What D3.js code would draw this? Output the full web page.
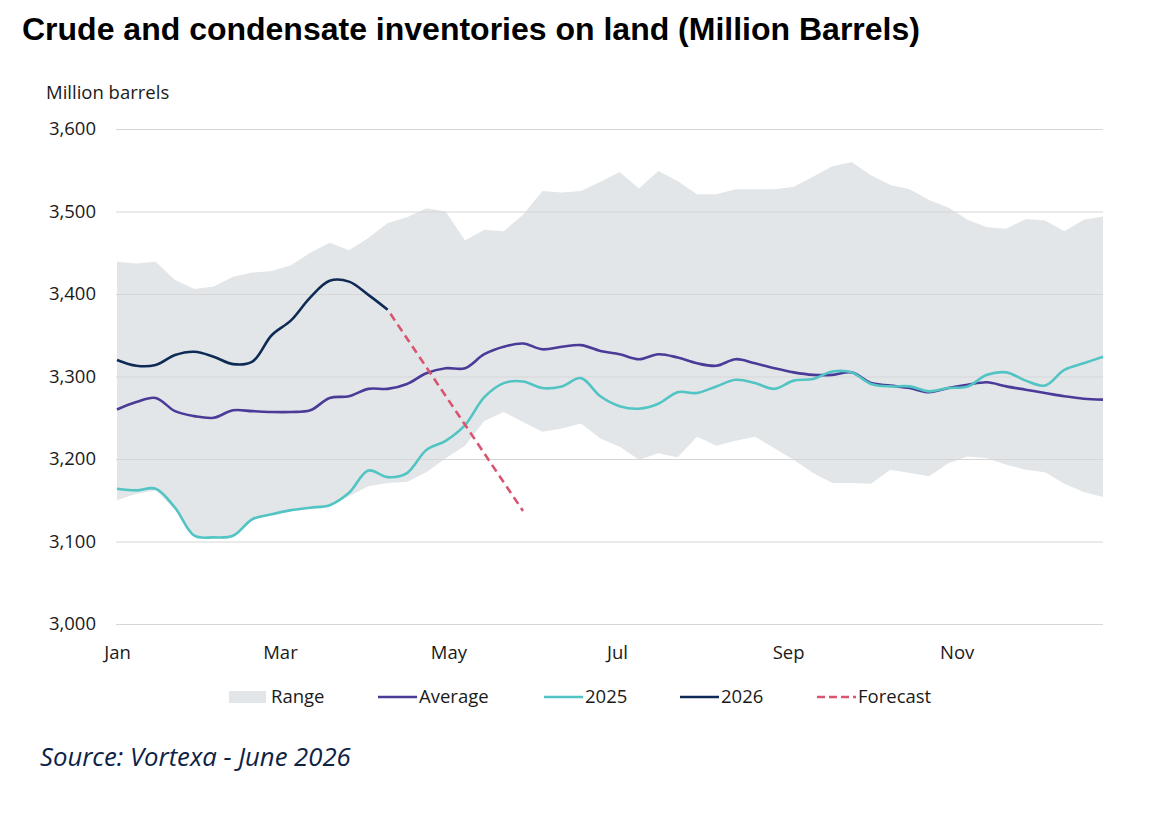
<!DOCTYPE html>
<html>
<head>
<meta charset="utf-8">
<script src="https://cdn.jsdelivr.net/npm/d3@7"></script>
<style>
    body { margin: 0; background: #fff; }
    svg text { font-family: "Open Sans", "Noto Sans", sans-serif; fill: #1a1a1a; }
</style>
</head>
<body>
<svg id="chart" width="1158" height="822"></svg>
<script>
// Weekly data, week 0 = first week of January
const rangeHigh = [3439, 3437, 3439, 3417, 3406, 3409, 3421, 3426, 3428, 3435,
    3450, 3462, 3453, 3468, 3486, 3493, 3504, 3500, 3465, 3478,
    3476, 3496, 3525, 3523, 3525, 3536, 3548, 3528, 3549, 3537,
    3521, 3521, 3527, 3527, 3527, 3530, 3542, 3555, 3560, 3544,
    3532, 3527, 3514, 3505, 3490, 3481, 3479, 3491, 3489, 3476,
    3490, 3494];
const rangeLow = [3150, 3158, 3162, 3139, 3106, 3104, 3106, 3126, 3132, 3137,
    3140, 3143, 3155, 3167, 3171, 3172, 3184, 3201, 3216, 3246,
    3257, 3245, 3233, 3237, 3243, 3225, 3215, 3199, 3207, 3202,
    3227, 3216, 3222, 3227, 3213, 3199, 3183, 3171, 3171, 3170,
    3187, 3183, 3179, 3195, 3203, 3201, 3193, 3187, 3184, 3170,
    3160, 3154];
const average = [3260, 3269, 3274, 3258, 3252, 3250, 3259, 3258, 3257, 3257,
    3259, 3274, 3276, 3285, 3285, 3291, 3304, 3310, 3310, 3327,
    3336, 3340, 3333, 3336, 3338, 3331, 3327, 3321, 3327, 3323,
    3316, 3313, 3321, 3316, 3310, 3305, 3302, 3302, 3305, 3292,
    3289, 3286, 3281, 3286, 3290, 3293, 3288, 3284, 3280, 3276,
    3273, 3272];
const y2025 = [3164, 3162, 3164, 3141, 3107, 3105, 3107, 3127, 3133, 3138,
    3141, 3144, 3159, 3186, 3178, 3183, 3211, 3222, 3241, 3275,
    3292, 3294, 3286, 3288, 3298, 3276, 3264, 3261, 3267, 3281,
    3280, 3288, 3296, 3292, 3285, 3295, 3297, 3306, 3305, 3291,
    3288, 3288, 3282, 3286, 3288, 3302, 3305, 3295, 3289, 3308,
    3316, 3324];
const y2026 = [3320, 3313, 3314, 3326, 3330, 3324, 3315, 3318, 3350, 3368,
    3396, 3416, 3415, 3399, 3381];
const forecastWeeks = [14, 21];
const forecast = [3381, 3137];

const monthLabels = ["Jan", "Mar", "May", "Jul", "Sep", "Nov"];
const yTicks = [3000, 3100, 3200, 3300, 3400, 3500, 3600];

const legendItems = [
    { label: "Range", type: "area", color: "#e3e6e8" },
    { label: "Average", type: "line", color: "#4a3b98" },
    { label: "2025", type: "line", color: "#52c4c4" },
    { label: "2026", type: "line", color: "#0e2b55" },
    { label: "Forecast", type: "dash", color: "#d9556f" }
];

const svg = d3.select("#chart");
const margin = { left: 117, right: 55, top: 129, bottom: 198 };
const width = 1158 - margin.left - margin.right;
const height = 822 - margin.top - margin.bottom;

const weekDate = i => new Date(2026, 0, 1 + 7 * i);
const parseMonth = d3.timeParse("%b %Y");

const x = d3.scaleTime()
    .domain([weekDate(0), weekDate(rangeHigh.length - 1)])
    .range([0, width]);
const y = d3.scaleLinear()
    .domain([3000, 3600])
    .range([height, 0]);

// Title
svg.append("text")
    .attr("x", 22)
    .attr("y", 40)
    .style("font-family", "'Liberation Sans', Arial, sans-serif")
    .style("font-weight", "bold")
    .style("font-size", "32px")
    .style("fill", "#000")
    .text("Crude and condensate inventories on land (Million Barrels)");

svg.append("text")
    .attr("x", 46)
    .attr("y", 99)
    .style("font-size", "18.5px")
    .text("Million barrels");

const g = svg.append("g").attr("transform", `translate(${margin.left},${margin.top})`);

// Range area
const area = d3.area()
    .x((d, i) => x(weekDate(i)))
    .y0((d, i) => y(rangeLow[i]))
    .y1(d => y(d));

g.append("path")
    .datum(rangeHigh)
    .attr("fill", legendItems[0].color)
    .attr("d", area);

// Y axis with gridlines
const yAxis = g.append("g")
    .call(d3.axisLeft(y).tickValues(yTicks).tickFormat(d3.format(",")).tickSize(-width - 1).tickPadding(20))
    .attr("transform", "translate(-1,0)");
yAxis.select(".domain").remove();
yAxis.selectAll(".tick line").attr("stroke", "#d6d6d6").attr("stroke-width", 1);
yAxis.selectAll(".tick text")
    .style("font-size", "18.5px")
    .style("font-family", "'Open Sans', sans-serif")
    .attr("fill", "#1a1a1a");

// X axis
const xAxis = g.append("g")
    .attr("transform", `translate(0,${height})`)
    .call(d3.axisBottom(x)
        .tickValues(monthLabels.map(m => parseMonth(m + " 2026")))
        .tickFormat(d3.timeFormat("%b"))
        .tickSize(0)
        .tickPadding(22));
xAxis.select(".domain").remove();
xAxis.selectAll(".tick text")
    .style("font-size", "18.5px")
    .style("font-family", "'Open Sans', sans-serif")
    .attr("fill", "#1a1a1a");

// Lines
const line = d3.line()
    .x((d, i) => x(weekDate(i)))
    .y(d => y(d))
    .curve(d3.curveCatmullRom.alpha(0.5));

g.append("path")
    .datum(average)
    .attr("fill", "none")
    .attr("stroke", legendItems[1].color)
    .attr("stroke-width", 2.6)
    .attr("d", line);

g.append("path")
    .datum(y2025)
    .attr("fill", "none")
    .attr("stroke", legendItems[2].color)
    .attr("stroke-width", 2.6)
    .attr("d", line);

g.append("path")
    .datum(y2026)
    .attr("fill", "none")
    .attr("stroke", legendItems[3].color)
    .attr("stroke-width", 2.6)
    .attr("d", line);

const forecastLine = d3.line()
    .x((d, i) => x(weekDate(forecastWeeks[i])))
    .y(d => y(d));

g.append("path")
    .datum(forecast)
    .attr("fill", "none")
    .attr("stroke", legendItems[4].color)
    .attr("stroke-width", 2.6)
    .attr("stroke-dasharray", "8,5")
    .attr("stroke-dashoffset", 8)
    .attr("d", forecastLine);

// Legend
const legendX = [229, 378, 544, 680, 817];
const legend = svg.append("g").attr("transform", "translate(0,697)");

legendItems.forEach((item, i) => {
    const lg = legend.append("g").attr("transform", `translate(${legendX[i]},0)`);
    if (item.type === "area") {
        lg.append("rect")
            .attr("x", 0).attr("y", -6)
            .attr("width", 37).attr("height", 12)
            .attr("fill", item.color);
    } else {
        lg.append("line")
            .attr("x1", 0).attr("x2", 39)
            .attr("y1", 0).attr("y2", 0)
            .attr("stroke", item.color)
            .attr("stroke-width", 2.6)
            .attr("stroke-dasharray", item.type === "dash" ? "8,4" : null);
    }
    lg.append("text")
        .attr("x", item.type === "area" ? 42 : 41)
        .attr("y", 0)
        .attr("dy", "0.35em")
        .style("font-size", "18.5px")
        .text(item.label);
});

// Source note
svg.append("text")
    .attr("x", 40)
    .attr("y", 766)
    .style("font-style", "italic")
    .style("font-size", "25.7px")
    .style("fill", "#0d2346")
    .text("Source: Vortexa - June 2026");
</script>
</body>
</html>
